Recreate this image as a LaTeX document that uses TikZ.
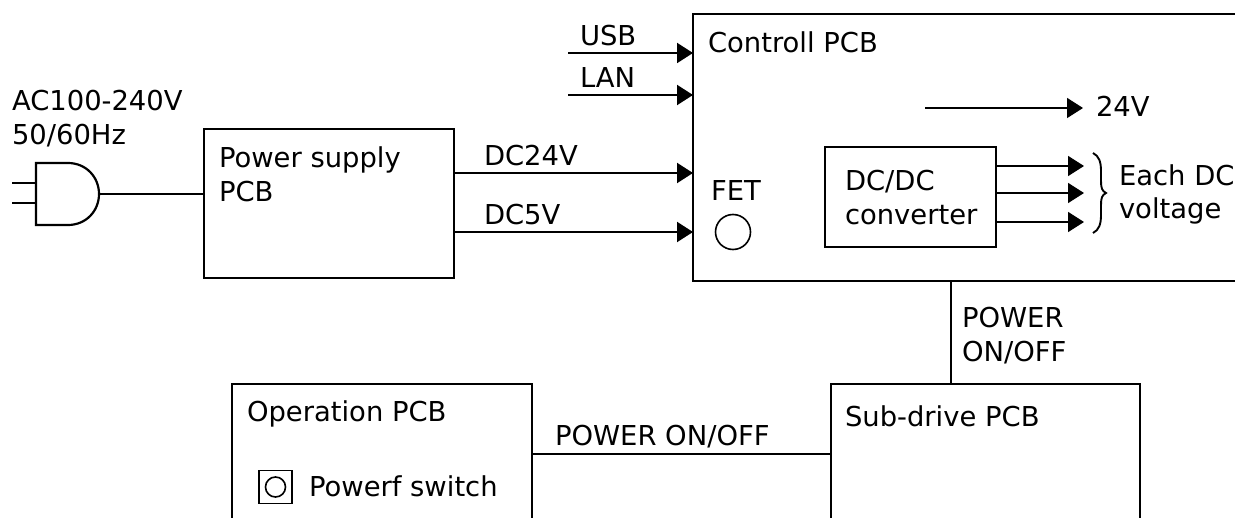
\documentclass[tikz,border=0pt]{standalone}
\usepackage{fontspec}
\setmainfont{DejaVu Sans}
\usetikzlibrary{arrows.meta,positioning,calc}

\begin{document}
\begin{tikzpicture}[
    x=0.5pt,y=-0.5pt,
    font=\fontsize{13.7}{17}\selectfont,
    pcbbox/.style={draw,line width=1pt,outer sep=0pt,inner sep=0pt,anchor=north west},
    txt/.style={inner sep=0pt,outer sep=0pt,anchor=base west,align=left},
    pin/.style={line width=1.1pt},
    wire/.style={line width=0.8pt},
    arrow/.style={-{Triangle[length=8pt,width=10pt]},line width=1pt},
    thinarrow/.style={-{Triangle[length=8pt,width=10pt]},line width=0.8pt}
  ]
    \useasboundingbox (0,0) rectangle (1235,518);
    \clip (0,0) rectangle (1235,518);

    % boards, the open ones run past the page edge
    \node[pcbbox,minimum width=125pt,minimum height=74.5pt] (power) at (204,129) {};
    \node[pcbbox,minimum width=320pt,minimum height=133.5pt] (ctrl) at (693,14) {};
    \node[pcbbox,line width=0.8pt,minimum width=85.5pt,minimum height=50pt] (dcdc) at (825,147) {};
    \node[pcbbox,minimum width=154.5pt,minimum height=120pt] (sub) at (831,384) {};
    \node[pcbbox,minimum width=150pt,minimum height=120pt] (oper) at (232,384) {};

    % plug
    \coordinate (plugtop) at (36,163);
    \coordinate (plugbot) at (36,225);
    \coordinate (plugtip) at (99,194);
    \draw[pin] (plugtop) -- (68,163) .. controls (86,163) and (99,177) .. (plugtip)
      .. controls (99,211) and (86,225) .. (68,225) -- (plugbot) -- cycle;
    \draw[pin] (12,183) -- (36,183);
    \draw[pin] (12,203) -- (36,203);
    \node[txt] (aclabel) at (12,111) {AC100-240V};
    \node[txt] (hzlabel) at (12,145) {50/60Hz};
    \draw[wire] (plugtip) -- (plugtip -| power.west);

    \node[txt] (powerlabel) at (219,168) {Power supply};
    \node[txt] (powerlabelb) at (219,202) {PCB};
    \node[txt] (ctrllabel) at (708,53) {Controll PCB};
    \node[txt] (fetlabel) at (711,200) {FET};
    \node[draw,circle,line width=0.8pt,minimum size=17.5pt,inner sep=0pt] (fet) at (733,232) {};
    \node[txt] (dcdclabel) at (845,191) {DC/DC};
    \node[txt] (convlabel) at (845,225) {converter};
    \node[txt] (sublabel) at (845,426) {Sub-drive PCB};
    \node[txt] (operlabel) at (247,421) {Operation PCB};
    \node[txt] (swlabel) at (309,496) {Powerf switch};

    % switch
    \node[draw,line width=0.8pt,minimum size=16.5pt,inner sep=0pt,outer sep=0pt] (swbox) at (275.5,487) {};
    \node[draw,circle,line width=0.8pt,minimum size=10pt,inner sep=0pt] (swknob) at (275.5,487) {};

    % inputs of the controll board
    \coordinate (usbin) at (568,53);
    \coordinate (lanin) at (568,95);
    \draw[arrow] (usbin) -- (usbin -| ctrl.west) node[pos=0,txt,xshift=6pt,yshift=3.5pt] (usblabel) {USB};
    \draw[arrow] (lanin) -- (lanin -| ctrl.west) node[pos=0,txt,xshift=6pt,yshift=3.5pt] (lanlabel) {LAN};

    \coordinate (dc24) at (power.west |- 0,173);
    \coordinate (dc5) at (power.west |- 0,232);
    \draw[arrow] (dc24 -| power.east) -- (dc24 -| ctrl.west) node[pos=0,txt,xshift=15pt,yshift=3.5pt] (dc24label) {DC24V};
    \draw[arrow] (dc5 -| power.east) -- (dc5 -| ctrl.west) node[pos=0,txt,xshift=15pt,yshift=3.5pt] (dc5label) {DC5V};

    % outputs inside
    \coordinate (v24in) at (925,108);
    \coordinate (v24out) at (1083,108);
    \draw[thinarrow] (v24in) -- (v24out);
    \node[txt] (v24label) at (1096,117) {24V};
    \coordinate (outa) at (1084,166);
    \coordinate (outb) at (1084,193);
    \coordinate (outc) at (1084,222);
    \draw[thinarrow] (outa -| dcdc.east) -- (outa);
    \draw[thinarrow] (outb -| dcdc.east) -- (outb);
    \draw[thinarrow] (outc -| dcdc.east) -- (outc);
    \draw[line width=0.95pt] (1093,153) .. controls (1099,156) and (1101,162) .. (1101,171)
      -- (1101,181) .. controls (1101,188) and (1102,191) .. (1106,193)
      .. controls (1102,195) and (1101,198) .. (1101,205) -- (1101,215)
      .. controls (1101,224) and (1099,230) .. (1093,233);
    \node[txt] (eachlabel) at (1119,185) {Each DC};
    \node[txt] (voltlabel) at (1119,219) {voltage};

    \draw[wire] (951,0 |- ctrl.south) -- (951,0 |- sub.north);
    \node[txt] (ponlabel) at (962,327) {POWER};
    \node[txt] (offlabel) at (962,361) {ON/OFF};
    \coordinate (oplink) at (532,454);
    \draw[wire] (oplink) -- (oplink -| sub.west);
    \node[txt] (linklabel) at (555,445) {POWER ON/OFF};
\end{tikzpicture}
\end{document}
